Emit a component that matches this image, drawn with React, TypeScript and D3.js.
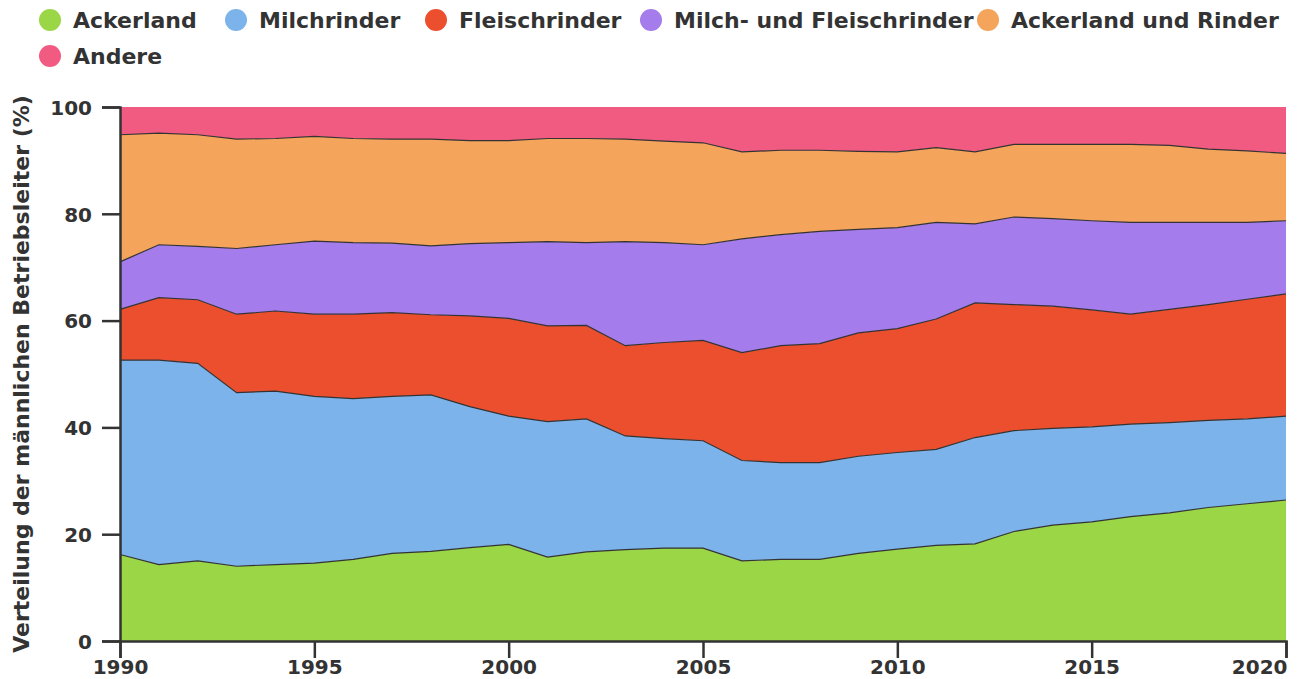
import React, { useEffect, useRef } from 'react';
import * as d3 from 'd3';

// shares of male farm managers by farm type (%), 1990-2020
const years = d3.range(1990, 2021);
const ackerland = [16.2, 14.3, 15.0, 14.0, 14.3, 14.6, 15.3, 16.4, 16.8, 17.5, 18.1, 15.7, 16.7, 17.1, 17.4, 17.4, 15.0, 15.3, 15.3, 16.4, 17.2, 17.9, 18.2, 20.5, 21.7, 22.3, 23.3, 24.0, 25.0, 25.7, 26.4];
const milchrinder = [36.4, 38.3, 37.0, 32.5, 32.5, 31.2, 30.1, 29.4, 29.3, 26.4, 24.0, 25.4, 24.9, 21.3, 20.5, 20.1, 18.8, 18.1, 18.1, 18.2, 18.1, 18.0, 19.9, 18.9, 18.1, 17.8, 17.3, 16.9, 16.3, 15.9, 15.7];
const fleischrinder = [9.5, 11.7, 11.9, 14.7, 15.0, 15.4, 15.8, 15.7, 15.0, 17.0, 18.3, 17.9, 17.5, 16.9, 18.0, 18.8, 20.2, 21.9, 22.3, 23.1, 23.2, 24.4, 25.2, 23.6, 22.9, 21.9, 20.6, 21.2, 21.7, 22.4, 22.9];
const milchFleisch = [8.9, 9.9, 10.0, 12.3, 12.4, 13.7, 13.4, 13.0, 12.9, 13.5, 14.2, 15.8, 15.5, 19.5, 18.7, 17.9, 21.3, 20.8, 21.0, 19.4, 18.9, 18.1, 14.8, 16.4, 16.4, 16.7, 17.2, 16.3, 15.4, 14.4, 13.7];
const ackerlandRinder = [23.8, 20.9, 20.9, 20.5, 19.9, 19.6, 19.5, 19.5, 20.0, 19.3, 19.1, 19.3, 19.5, 19.2, 19.0, 19.1, 16.3, 15.8, 15.2, 14.6, 14.2, 14.0, 13.5, 13.6, 13.9, 14.3, 14.6, 14.4, 13.7, 13.4, 12.6];
const andere = [5.2, 4.9, 5.2, 6.0, 5.9, 5.5, 5.9, 6.0, 6.0, 6.3, 6.3, 5.9, 5.9, 6.0, 6.4, 6.7, 8.4, 8.1, 8.1, 8.3, 8.4, 7.6, 8.4, 7.0, 7.0, 7.0, 7.0, 7.2, 7.9, 8.2, 8.7];

const seriesNames = ['Ackerland', 'Milchrinder', 'Fleischrinder', 'Milch- und Fleischrinder', 'Ackerland und Rinder', 'Andere'];
const seriesValues = [ackerland, milchrinder, fleischrinder, milchFleisch, ackerlandRinder, andere];
const colors = ['#9ad646', '#7bb3ea', '#ec4f2e', '#a47cec', '#f5a45c', '#f15b82'];
const yTicks = [0, 20, 40, 60, 80, 100];
const xTicks = [1990, 1995, 2000, 2005, 2010, 2015, 2020];
const yLabel = 'Verteilung der männlichen Betriebsleiter (%)';

const App = () => {
  const svgRef = useRef(null);

  useEffect(() => {
    const W = 1299;
    const H = 679;
    const margin = { top: 107, right: 13, bottom: 38, left: 120 };
    const width = W - margin.left - margin.right;
    const height = H - margin.top - margin.bottom;
    const font = 'DejaVu Sans, sans-serif';

    const svg = d3.select(svgRef.current);
    svg.selectAll('*').remove();

    const table = years.map((year, i) => {
      const row = { year };
      seriesNames.forEach((name, s) => (row[name] = seriesValues[s][i]));
      return row;
    });

    const stacked = d3.stack().keys(seriesNames)(table);

    const x = d3.scaleLinear().domain([1990, 2020]).range([0, width]);
    const y = d3.scaleLinear().domain([0, 100]).range([height, 0]);

    const g = svg.append('g').attr('transform', `translate(${margin.left}, ${margin.top})`);

    const area = d3
      .area()
      .x((d) => x(d.data.year))
      .y0((d) => y(d[0]))
      .y1((d) => y(Math.min(d[1], 100)));

    g.selectAll('.layer')
      .data(stacked)
      .enter()
      .append('path')
      .attr('class', 'layer')
      .attr('d', area)
      .attr('fill', (d, i) => colors[i]);

    // boundary lines between layers
    const line = d3
      .line()
      .x((d) => x(d.data.year))
      .y((d) => y(d[1]));
    g.selectAll('.edge')
      .data(stacked.slice(0, -1))
      .enter()
      .append('path')
      .attr('class', 'edge')
      .attr('d', line)
      .attr('fill', 'none')
      .attr('stroke', '#333')
      .attr('stroke-width', 1.2);

    // axes
    const yAxis = g.append('g').call(d3.axisLeft(y).tickValues(yTicks).tickSize(18).tickPadding(10));
    const xAxis = g
      .append('g')
      .attr('transform', `translate(0, ${height})`)
      .call(d3.axisBottom(x).tickValues(xTicks).tickFormat(d3.format('d')).tickSize(17).tickPadding(2));

    [xAxis, yAxis].forEach((ax) => {
      ax.select('.domain').attr('stroke', '#333').attr('stroke-width', 2.5);
      ax.selectAll('.tick line').attr('stroke', '#333').attr('stroke-width', 2.5);
      ax.selectAll('.tick text')
        .attr('fill', '#333')
        .style('font-family', font)
        .style('font-size', '20px')
        .style('font-weight', 'bold');
    });
    yAxis.selectAll('.tick text').attr('dy', '0.36em');
    // last year label sits flush with the axis end
    xAxis.selectAll('.tick text').filter((d) => d === 2020).attr('text-anchor', 'end').attr('x', 1);

    svg
      .append('text')
      .attr('transform', `translate(29, ${margin.top + height / 2}) rotate(-90)`)
      .attr('text-anchor', 'middle')
      .style('font-family', font)
      .style('font-size', '22px')
      .style('font-weight', 'bold')
      .attr('fill', '#333')
      .text(yLabel);

    // legend
    const legendPos = [
      [50, 20],
      [236, 20],
      [436, 20],
      [651, 20],
      [988, 20],
      [50, 56],
    ];
    const legend = svg
      .selectAll('.legend-item')
      .data(seriesNames)
      .enter()
      .append('g')
      .attr('class', 'legend-item')
      .attr('transform', (d, i) => `translate(${legendPos[i][0]}, ${legendPos[i][1]})`);

    legend
      .append('circle')
      .attr('r', 11)
      .attr('fill', (d, i) => colors[i]);

    legend
      .append('text')
      .attr('x', 23)
      .attr('y', 8)
      .style('font-family', font)
      .style('font-size', '22px')
      .style('font-weight', 'bold')
      .attr('fill', '#333')
      .text((d) => d);
  }, []);

  return (
    <div style={{ position: 'absolute', left: 0, top: 0 }}>
      <svg ref={svgRef} width={1299} height={679}></svg>
    </div>
  );
};

export default App;
